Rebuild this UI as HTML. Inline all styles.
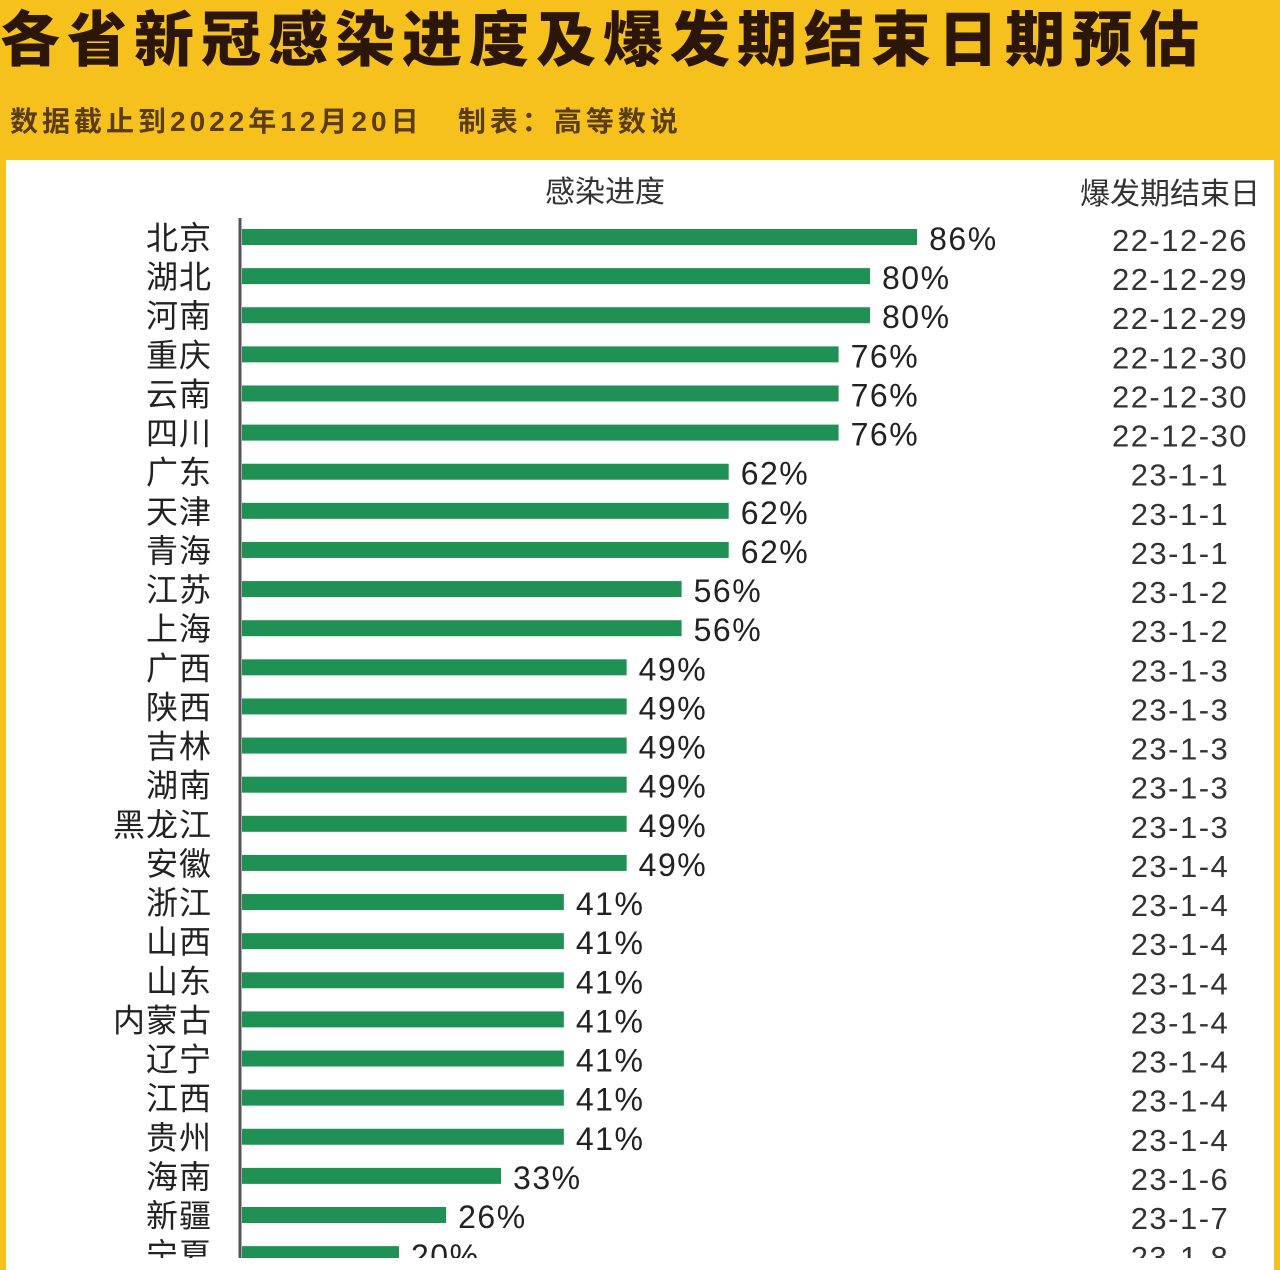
<!DOCTYPE html>
<html><head><meta charset="utf-8">
<style>
body{margin:0;width:1280px;height:1258px;overflow:hidden;background:#f6c11c;font-family:"Liberation Sans","Noto Sans CJK SC",sans-serif;}
#title{position:absolute;left:0px;top:-8px;font-size:60px;font-weight:900;color:#2b1608;letter-spacing:7px;white-space:nowrap;}
#sub{position:absolute;left:10px;top:100px;font-size:28px;font-weight:bold;color:#5b3d14;letter-spacing:4px;white-space:nowrap;}
#panel{position:absolute;left:6px;top:160px;width:1268px;height:1110px;background:#fff;}
svg{position:absolute;left:0;top:0}
text{font-family:"Liberation Sans","Noto Sans CJK SC",sans-serif;}
</style></head><body>
<div id="title">各省新冠感染进度及爆发期结束日期预估</div>
<div id="sub">数据截止到2022年12月20日 &nbsp;&nbsp;制表：高等数说</div>
<div id="panel"></div>
<svg id="chart" width="1280" height="1258">
<text x="605" y="202" font-size="30" fill="#333" text-anchor="middle">感染进度</text>
<text x="1170" y="204" font-size="30" fill="#333" text-anchor="middle">爆发期结束日</text>
<line x1="240" y1="218" x2="240" y2="1258" stroke="#555" stroke-width="3"/>
</svg>
<script>
const provinces=["北京","湖北","河南","重庆","云南","四川","广东","天津","青海","江苏","上海","广西","陕西","吉林","湖南","黑龙江","安徽","浙江","山西","山东","内蒙古","辽宁","江西","贵州","海南","新疆","宁夏"];
const progress=[86,80,80,76,76,76,62,62,62,56,56,49,49,49,49,49,49,41,41,41,41,41,41,41,33,26,20];
const endDates=["22-12-26","22-12-29","22-12-29","22-12-30","22-12-30","22-12-30","23-1-1","23-1-1","23-1-1","23-1-2","23-1-2","23-1-3","23-1-3","23-1-3","23-1-3","23-1-3","23-1-4","23-1-4","23-1-4","23-1-4","23-1-4","23-1-4","23-1-4","23-1-4","23-1-6","23-1-7","23-1-8"];
const svg=document.getElementById('chart');
const NS='http://www.w3.org/2000/svg';
const x0=242,pxPer=7.85,y0=237,step=39.12;
const xs=v=>x0+v*pxPer;
const ys=i=>y0+i*step;
function mk(tag,attrs,txt){const e=document.createElementNS(NS,tag);for(const k in attrs)e.setAttribute(k,attrs[k]);if(txt!==undefined)e.textContent=txt;svg.appendChild(e);return e;}
provinces.forEach((p,i)=>{
  const y=ys(i);
  const b=mk('rect',{x:x0,y:y-8,width:xs(progress[i])-x0,height:16,fill:'#1f9155'});
  
  
  const l=mk('text',{x:212,y:y+12,'font-size':32,fill:'#222','text-anchor':'end','letter-spacing':'1'},p);
  
  
  const v=mk('text',{x:xs(progress[i])+12,y:y+13,'font-size':32,fill:'#222','letter-spacing':'1.5'},progress[i]+'%');
  
  
  const d=mk('text',{x:1180,y:y+14,'font-size':31,fill:'#333','text-anchor':'middle','letter-spacing':'1.5'},endDates[i]);
  
  
});
</script>
</body></html>
